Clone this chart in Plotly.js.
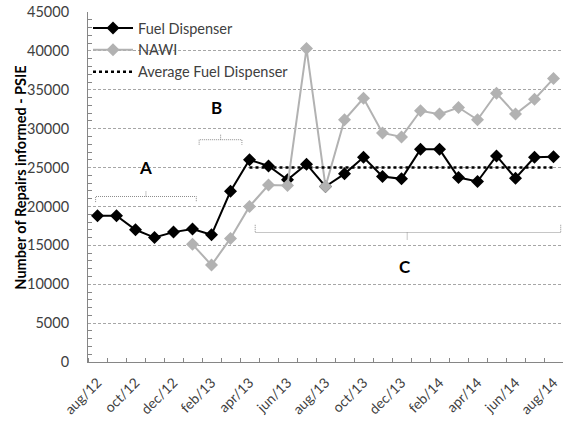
<!DOCTYPE html>
<html>
<head>
<meta charset="utf-8">
<script src="https://cdn.plot.ly/plotly-3.0.1.min.js"></script>
<style>html,body{margin:0;padding:0;background:#fff}#chart{width:563px;height:421px}</style>
</head>
<body>
<div id="chart"></div>
<script>
const months = ['aug/12','sep/12','oct/12','nov/12','dec/12','jan/13','feb/13','mar/13','apr/13','may/13','jun/13','jul/13','aug/13','sep/13','oct/13','nov/13','dec/13','jan/14','feb/14','mar/14','apr/14','may/14','jun/14','jul/14','aug/14'];
const fuelDispenser = [18800,18800,17000,16000,16700,17100,16350,21950,26000,25200,23430,25430,22570,24190,26320,23850,23550,27340,27340,23720,23210,26490,23640,26320,26400];
const nawi = [null,null,null,null,null,15130,12460,15890,20000,22750,22700,40300,22570,31150,33910,29450,28940,32300,31870,32720,31150,34550,31870,33790,36440];
const averageFuelDispenser = [null,null,null,null,null,null,null,null,25000,25000,25000,25000,25000,25000,25000,25000,25000,25000,25000,25000,25000,25000,25000,25000,25000];
const tickLabels = ['aug/12','oct/12','dec/12','feb/13','apr/13','jun/13','aug/13','oct/13','dec/13','feb/14','apr/14','jun/14','aug/14'];
const yTitle = 'Number of Repairs informed - PSIE';

const xIdx = months.map((m, i) => i);
const tickVals = tickLabels.map(l => months.indexOf(l));

const FONT = 'Lato, "Open Sans", sans-serif';
const TXT = '#404040';

const traces = [
  {x: xIdx, y: fuelDispenser, name: 'Fuel Dispenser', mode: 'lines+markers',
   line: {color: '#000000', width: 2}, marker: {symbol: 'diamond', size: 10, color: '#000000'}},
  {x: xIdx, y: nawi, name: 'NAWI', mode: 'lines+markers',
   line: {color: '#b2b2b2', width: 2}, marker: {symbol: 'diamond', size: 10, color: '#b2b2b2'}},
  {x: xIdx, y: averageFuelDispenser, name: 'Average Fuel Dispenser', mode: 'lines',
   line: {color: '#000000', width: 2.5, dash: 'dot'}}
];

function bracket(x0, x1, yLine, yEnd, xm, yTip) {
  return {type: 'path', xref: 'x', yref: 'y',
    path: `M${x0},${yEnd} L${x0},${yLine} L${x1},${yLine} L${x1},${yEnd} M${xm},${yLine} L${xm},${yTip}`,
    line: {color: '#8c8c8c', width: 1, dash: '1px,1px'}};
}

const layout = {
  width: 563, height: 421,
  margin: {l: 88, r: 0, t: 12, b: 59},
  paper_bgcolor: '#ffffff', plot_bgcolor: '#ffffff',
  font: {family: FONT, size: 12, color: TXT},
  showlegend: true,
  legend: {x: 0, xanchor: 'left', y: 1, yanchor: 'top', bgcolor: 'rgba(0,0,0,0)',
           font: {family: FONT, size: 14.5, color: TXT}, itemwidth: 40, tracegroupgap: 0},
  xaxis: {range: [-0.5, 24.5], tickmode: 'array', tickvals: tickVals, ticktext: tickLabels,
          tickangle: -45, ticks: '', showgrid: false, zeroline: false, ticklabeloverflow: 'allow',
          showline: true, linecolor: '#868686', linewidth: 1, automargin: false, ticklabelstandoff: 6,
          tickfont: {family: FONT, size: 14, color: TXT},
          minor: {tick0: 0.5, dtick: 1, ticks: 'inside', ticklen: 4, tickcolor: '#868686', showgrid: false}},
  yaxis: {range: [0, 45000], dtick: 5000, tick0: 0, ticks: '', showgrid: true, tickformat: 'd',
          gridcolor: '#a6a6a6', gridwidth: 1, griddash: '3px,2px', zeroline: false,
          showline: true, linecolor: '#868686', linewidth: 1, automargin: false,
          tickfont: {family: FONT, size: 14.5, color: TXT}, ticklabelstandoff: 15,
          minor: {tick0: 0, dtick: 1000, ticks: 'inside', ticklen: 4, tickcolor: '#868686', showgrid: false}},
  shapes: [
    bracket(-0.1, 5.2, 21280, 20560, 2.55, 22050),
    bracket(5.35, 7.6, 28580, 27940, 6.48, 29350),
    bracket(8.3, 24.38, 16650, 17640, 16.3, 15710)
  ],
  annotations: [
    {x: -0.143, y: 0.527, xref: 'paper', yref: 'paper', text: '<b>' + yTitle + '</b>', textangle: -90,
     showarrow: false, xanchor: 'center', yanchor: 'middle',
     font: {family: FONT, size: 14.5, color: '#000000'}},
    {x: 2.5, y: 25000, xref: 'x', yref: 'y', text: '<b>A</b>', showarrow: false, font: {family: FONT, size: 17, color: '#000'}},
    {x: 6.27, y: 32700, xref: 'x', yref: 'y', text: '<b>B</b>', showarrow: false, font: {family: FONT, size: 17, color: '#000'}},
    {x: 16.2, y: 12270, xref: 'x', yref: 'y', text: '<b>C</b>', showarrow: false, font: {family: FONT, size: 17, color: '#000'}}
  ]
};

Plotly.newPlot('chart', traces, layout, {displayModeBar: false, staticPlot: true});
</script>
</body>
</html>
